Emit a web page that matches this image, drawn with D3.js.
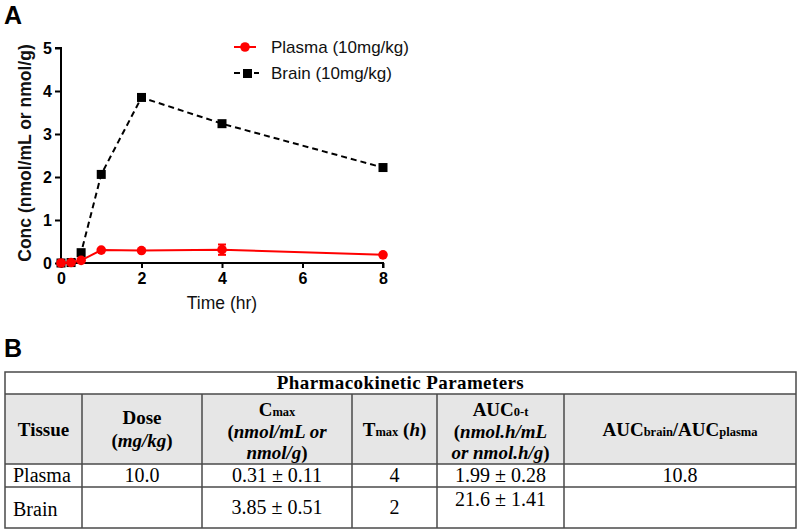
<!DOCTYPE html>
<html>
<head>
<meta charset="utf-8">
<script src="https://cdn.jsdelivr.net/npm/d3@7"></script>
<style>
  html, body { margin: 0; padding: 0; background: #fff; }
  svg { display: block; }
</style>
</head>
<body>
<svg id="chart" width="800" height="530"></svg>
<script>
// ---------- Data ----------
const times = [0, 0.25, 0.5, 1, 2, 4, 8];
const plasma = [0, 0.01, 0.06, 0.30, 0.29, 0.31, 0.19];
const plasmaSD = [0, 0, 0, 0, 0, 0.12, 0];
const brain = [0, 0.01, 0.24, 2.06, 3.85, 3.24, 2.22];
const xTicks = [0, 2, 4, 6, 8];
const yTicks = [0, 1, 2, 3, 4, 5];
const seriesNames = ["Plasma (10mg/kg)", "Brain (10mg/kg)"];

const tableTitle = "Pharmacokinetic Parameters";
const tissues = ["Plasma", "Brain"];
const doses = ["10.0", ""];
const cmaxVals = ["0.31 \u00b1 0.11", "3.85 \u00b1 0.51"];
const tmaxVals = ["4", "2"];
const aucVals = ["1.99 \u00b1 0.28", "21.6 \u00b1 1.41"];
const ratioVals = ["10.8", ""];

// ---------- Chart ----------
const svg = d3.select("#chart");
const sans = "'Liberation Sans', Arial, sans-serif";
const serif = "'Liberation Serif', 'Times New Roman', serif";
const red = "#ff0000";

const x = d3.scaleLinear().domain([0, 8]).range([61, 383]);
const y = d3.scaleLinear().domain([0, 5]).range([263, 48]);

svg.append("text").attr("x", 4).attr("y", 24).text("A")
  .attr("font-family", sans).attr("font-weight", "bold").attr("font-size", 25);

// axes
const yAxis = svg.append("g").attr("transform", "translate(61,0)")
  .call(d3.axisLeft(y).tickValues(yTicks).tickSize(6).tickPadding(3).tickFormat(d3.format("d")));
const xAxis = svg.append("g").attr("transform", "translate(0,263)")
  .call(d3.axisBottom(x).tickValues(xTicks).tickSize(5).tickPadding(5).tickFormat(d3.format("d")));
[yAxis, xAxis].forEach(g => {
  g.select(".domain").attr("stroke", "#000").attr("stroke-width", 2);
  g.selectAll(".tick line").attr("stroke", "#000").attr("stroke-width", 2);
  g.selectAll(".tick text").attr("font-family", sans).attr("font-weight", "bold")
    .attr("font-size", 16).attr("fill", "#000");
});
yAxis.select(".domain").attr("d", "M0,263V48H-6");
xAxis.select(".domain").attr("d", "M60,0H383V5");

svg.append("text").attr("transform", "translate(31,153) rotate(-90)")
  .attr("text-anchor", "middle").attr("font-family", sans).attr("font-weight", "bold")
  .attr("font-size", 17.5).attr("fill", "#111").text("Conc (nmol/mL or nmol/g)");
svg.append("text").attr("x", 222).attr("y", 309).attr("text-anchor", "middle")
  .attr("font-family", sans).attr("font-size", 17.5).attr("fill", "#111").text("Time (hr)");

// Brain series
const brainData = times.map((t, i) => ({ t, v: brain[i] }));
const plasmaData = times.map((t, i) => ({ t, v: plasma[i], sd: plasmaSD[i] }));
const line = d3.line().x(d => x(d.t)).y(d => y(d.v));

svg.append("path").datum(brainData).attr("d", line).attr("fill", "none")
  .attr("stroke", "#000").attr("stroke-width", 2).attr("stroke-dasharray", "6,4");
svg.selectAll(".bsq").data(brainData).enter().append("rect")
  .attr("x", d => x(d.t) - 4.5).attr("y", d => y(d.v) - 4.5)
  .attr("width", 9).attr("height", 9).attr("fill", "#000");

// Plasma series
svg.append("path").datum(plasmaData).attr("d", line).attr("fill", "none")
  .attr("stroke", red).attr("stroke-width", 2);
const eb = svg.selectAll(".eb").data(plasmaData.filter(d => d.sd > 0)).enter().append("g");
eb.append("line").attr("x1", d => x(d.t)).attr("x2", d => x(d.t))
  .attr("y1", d => y(d.v - d.sd)).attr("y2", d => y(d.v + d.sd)).attr("stroke", red).attr("stroke-width", 2);
eb.append("line").attr("x1", d => x(d.t) - 4).attr("x2", d => x(d.t) + 4)
  .attr("y1", d => y(d.v - d.sd)).attr("y2", d => y(d.v - d.sd)).attr("stroke", red).attr("stroke-width", 2);
eb.append("line").attr("x1", d => x(d.t) - 4).attr("x2", d => x(d.t) + 4)
  .attr("y1", d => y(d.v + d.sd)).attr("y2", d => y(d.v + d.sd)).attr("stroke", red).attr("stroke-width", 2);
svg.selectAll(".pc").data(plasmaData).enter().append("circle")
  .attr("cx", d => x(d.t)).attr("cy", d => y(d.v)).attr("r", 4.8).attr("fill", red);

// Legend
const lg = svg.append("g");
lg.append("line").attr("x1", 234).attr("x2", 256).attr("y1", 47).attr("y2", 47)
  .attr("stroke", red).attr("stroke-width", 2);
lg.append("circle").attr("cx", 245).attr("cy", 47).attr("r", 4.8).attr("fill", red);
lg.append("line").attr("x1", 234).attr("x2", 259).attr("y1", 73).attr("y2", 73)
  .attr("stroke", "#000").attr("stroke-width", 2).attr("stroke-dasharray", "6,4");
lg.append("rect").attr("x", 243).attr("y", 69).attr("width", 9).attr("height", 9).attr("fill", "#000");
lg.selectAll("text").data(seriesNames).enter().append("text")
  .attr("x", 271).attr("y", (d, i) => 53 + i * 26)
  .attr("font-family", sans).attr("font-size", 17).attr("fill", "#111").text(d => d);

// ---------- Table ----------
svg.append("text").attr("x", 4).attr("y", 357).text("B")
  .attr("font-family", sans).attr("font-weight", "bold").attr("font-size", 25);

const colEdges = [5, 82, 202, 352, 437, 564, 796];
const rowEdges = [372, 394, 464, 487, 528];
const border = "#4a4a4a";
const fs = 19, bodyFs = 20, subFs = 12.5;

const tbl = svg.append("g");
tbl.append("rect").attr("x", colEdges[0]).attr("y", rowEdges[1])
  .attr("width", colEdges[6] - colEdges[0]).attr("height", rowEdges[2] - rowEdges[1]).attr("fill", "#e6e6e6");

// header cells (lines of segments)
const headers = [
  [[["Tissue", "b"]]],
  [[["Dose", "b"]], [["(", "b"], ["mg/kg", "bi"], [")", "b"]]],
  [[["C", "b"], ["max", "s"]], [["(", "b"], ["nmol/mL or", "bi"]], [["nmol/g", "bi"], [")", "b"]]],
  [[["T", "b"], ["max", "s"], [" (", "b"], ["h", "bi"], [")", "b"]]],
  [[["AUC", "b"], ["0-t", "s"]], [["(", "b"], ["nmol.h/mL", "bi"]], [["or nmol.h/g", "bi"], [")", "b"]]],
  [[["AUC", "b"], ["brain", "s"], ["/AUC", "b"], ["plasma", "s"]]]
];
const baselinesFor = { 1: [436], 2: [424, 447], 3: [416, 438, 459] };

headers.forEach((lines, ci) => {
  const cx = (colEdges[ci] + colEdges[ci + 1]) / 2;
  const bl = baselinesFor[lines.length];
  lines.forEach((segs, li) => {
    const t = tbl.append("text").attr("x", cx).attr("y", bl[li]).attr("text-anchor", "middle")
      .attr("font-family", serif).attr("font-size", fs).attr("font-weight", "bold").attr("fill", "#000");
    segs.forEach(([txt, st]) => {
      const ts = t.append("tspan").text(txt).attr("xml:space", "preserve");
      if (st === "s") ts.attr("font-size", subFs);
      if (st === "bi") ts.attr("font-style", "italic");
    });
  });
});

tbl.append("text").attr("x", (colEdges[0] + colEdges[6]) / 2).attr("y", 389)
  .attr("text-anchor", "middle").attr("font-family", serif).attr("font-weight", "bold")
  .attr("font-size", fs).attr("letter-spacing", 0.4).text(tableTitle);

// body rows
const bodyCols = [tissues, doses, cmaxVals, tmaxVals, aucVals, ratioVals];
const rowBase = [[482, 482, 482, 482, 482, 482], [516, 514, 514, 514, 506, 514]];
bodyCols.forEach((col, ci) => {
  col.forEach((val, ri) => {
    const cx = ci === 0 ? colEdges[0] + 8 : (colEdges[ci] + colEdges[ci + 1]) / 2;
    tbl.append("text").attr("x", cx).attr("y", rowBase[ri][ci])
      .attr("text-anchor", ci === 0 ? "start" : "middle")
      .attr("font-family", serif).attr("font-size", bodyFs).attr("fill", "#000").text(val);
  });
});

// grid lines
tbl.append("rect").attr("x", colEdges[0]).attr("y", rowEdges[0])
  .attr("width", colEdges[6] - colEdges[0]).attr("height", rowEdges[4] - rowEdges[0])
  .attr("fill", "none").attr("stroke", border).attr("stroke-width", 1.5);
rowEdges.slice(1, 4).forEach(ry => {
  tbl.append("line").attr("x1", colEdges[0]).attr("x2", colEdges[6]).attr("y1", ry).attr("y2", ry)
    .attr("stroke", border).attr("stroke-width", 1.5);
});
colEdges.slice(1, 6).forEach(cx => {
  tbl.append("line").attr("x1", cx).attr("x2", cx).attr("y1", rowEdges[1]).attr("y2", rowEdges[4])
    .attr("stroke", border).attr("stroke-width", 1.5);
});
</script>
</body>
</html>
